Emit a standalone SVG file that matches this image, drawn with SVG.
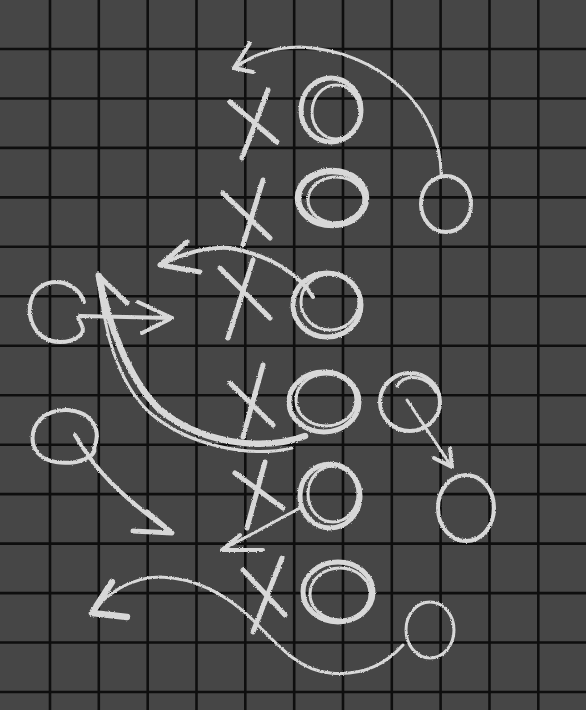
<svg xmlns="http://www.w3.org/2000/svg" width="586" height="710" viewBox="0 0 586 710">
<defs>
<filter id="rough" x="-10%" y="-10%" width="120%" height="120%">
<feTurbulence type="fractalNoise" baseFrequency="0.8" numOctaves="2" seed="3" result="n"/>
<feDisplacementMap in="SourceGraphic" in2="n" scale="2.5" xChannelSelector="R" yChannelSelector="G"/>
</filter>
</defs>
<style>
.grid line{stroke:#0e0e0e;stroke-width:2.6}
.chalk{fill:none;stroke:#d8d8d8;stroke-linecap:round;stroke-linejoin:round;filter:url(#rough)}
.w3{stroke-width:3}
.w4{stroke-width:4}
.w5{stroke-width:5}
.w6{stroke-width:6.5}
</style>
<rect width="586" height="710" fill="#464646"/>
<g class="grid">
<line x1="50" y1="0" x2="50" y2="710"/>
<line x1="98.8" y1="0" x2="98.8" y2="710"/>
<line x1="147.7" y1="0" x2="147.7" y2="710"/>
<line x1="196.5" y1="0" x2="196.5" y2="710"/>
<line x1="245.3" y1="0" x2="245.3" y2="710"/>
<line x1="294.2" y1="0" x2="294.2" y2="710"/>
<line x1="343" y1="0" x2="343" y2="710"/>
<line x1="391.8" y1="0" x2="391.8" y2="710"/>
<line x1="440.6" y1="0" x2="440.6" y2="710"/>
<line x1="489.5" y1="0" x2="489.5" y2="710"/>
<line x1="538.3" y1="0" x2="538.3" y2="710"/>
<line x1="0" y1="49" x2="586" y2="49"/>
<line x1="0" y1="98.5" x2="586" y2="98.5"/>
<line x1="0" y1="147.9" x2="586" y2="147.9"/>
<line x1="0" y1="197.4" x2="586" y2="197.4"/>
<line x1="0" y1="246.8" x2="586" y2="246.8"/>
<line x1="0" y1="296.3" x2="586" y2="296.3"/>
<line x1="0" y1="345.8" x2="586" y2="345.8"/>
<line x1="0" y1="395.2" x2="586" y2="395.2"/>
<line x1="0" y1="444.7" x2="586" y2="444.7"/>
<line x1="0" y1="494.1" x2="586" y2="494.1"/>
<line x1="0" y1="543.6" x2="586" y2="543.6"/>
<line x1="0" y1="593.1" x2="586" y2="593.1"/>
<line x1="0" y1="642.5" x2="586" y2="642.5"/>
<line x1="0" y1="692" x2="586" y2="692"/>
</g>

<g id="x1" class="chalk w5"><path d="M230,102 L277,142"/><path d="M268,90 L242,158"/></g>
<g id="x2" class="chalk w5"><path d="M223,193 L270,238"/><path d="M263,180 L243,245"/></g>
<g id="x3" class="chalk w5"><path d="M220,268 L270,318"/><path d="M253,260 L228,338"/></g>
<g id="x4" class="chalk w5"><path d="M230,383 L273,425"/><path d="M263,365 L243,437"/></g>
<g id="x5" class="chalk w5"><path d="M235,473 L283,508"/><path d="M265,462 L247,528"/></g>
<g id="x6" class="chalk w5"><path d="M243,570 L285,615"/><path d="M282,558 L253,632"/></g>

<g id="o1" class="chalk w5"><ellipse cx="331" cy="110" rx="30" ry="32"/><ellipse cx="336" cy="112" rx="24" ry="27" class="w3"/></g>
<g id="o2" class="chalk w6"><ellipse cx="332" cy="198" rx="34" ry="27"/><ellipse cx="336" cy="200" rx="28" ry="23" class="w3"/></g>
<g id="o3" class="chalk w5"><ellipse cx="327" cy="305" rx="34" ry="32"/><ellipse cx="330" cy="302" rx="29" ry="28" class="w3"/></g>
<g id="o4" class="chalk w5"><ellipse cx="324" cy="402" rx="35" ry="30"/><ellipse cx="326" cy="400" rx="30" ry="26" class="w3"/></g>
<g id="o5" class="chalk w5"><ellipse cx="330" cy="496" rx="30" ry="32"/><ellipse cx="333" cy="494" rx="25" ry="28" class="w3"/></g>
<g id="o6" class="chalk w5"><ellipse cx="338" cy="592" rx="35" ry="30"/><ellipse cx="340" cy="594" rx="30" ry="26" class="w3"/></g>

<g id="r1" class="chalk w4"><ellipse cx="446" cy="204" rx="25" ry="28"/></g>
<g id="r2" class="chalk w4"><ellipse cx="410" cy="402" rx="30" ry="29"/><path class="w3" d="M397,386 C405,372 428,376 436,392"/></g>
<g id="r3" class="chalk w4"><ellipse cx="466" cy="508" rx="28" ry="33"/></g>
<g id="r4" class="chalk w3"><ellipse cx="430" cy="630" rx="24" ry="28"/></g>
<g id="l1" class="chalk w4"><path d="M84,302 C78,282 50,274 35,292 C22,312 34,342 60,342 C76,342 86,333 82,326 C80,320 76,318 80,316"/></g>
<g id="l2" class="chalk w4"><path d="M94,448 C102,430 92,412 68,410 C44,409 30,425 33,443 C36,460 56,465 76,462 C88,459 96,454 94,448"/></g>

<g id="connectors" class="chalk">
<path class="w3" d="M441,175 C442,110 380,50 300,47 C270,47 250,57 234,68"/>
<path class="w4" d="M250,43 L234,68 L253,72"/>
<path class="w4" d="M313,297 C300,275 270,255 230,248 C205,246 180,255 160,265"/>
<path class="w5" d="M187,242 L160,265 L200,272"/>
<path class="w6" d="M305,436 C262,452 198,443 158,408 C128,378 108,322 99,276"/>
<path class="w3" d="M292,448 C250,458 188,446 149,412 C118,382 102,328 102,285"/>
<path class="w5" d="M127,303 L98,275 L105,315"/>
<path class="w4" d="M80,316 L172,318"/>
<path class="w4" d="M138,302 L172,318 L142,333"/>
<path class="w4" d="M75,435 C95,470 120,495 168,530"/>
<path class="w5" d="M147,512 L172,533 L133,531"/>
<path class="w3" d="M300,508 L222,550"/>
<path class="w4" d="M240,535 L222,550 L263,550"/>
<path class="w3" d="M407,400 L452,467"/>
<path class="w4" d="M434,458 L452,467 L450,448"/>
<path class="w3" d="M403,645 C385,665 360,676 330,673 C300,670 280,648 255,622 C230,597 200,578 160,577 C130,577 105,595 92,613"/>
<path class="w6" d="M112,582 L92,613 L127,617"/>
</g>
</svg>
